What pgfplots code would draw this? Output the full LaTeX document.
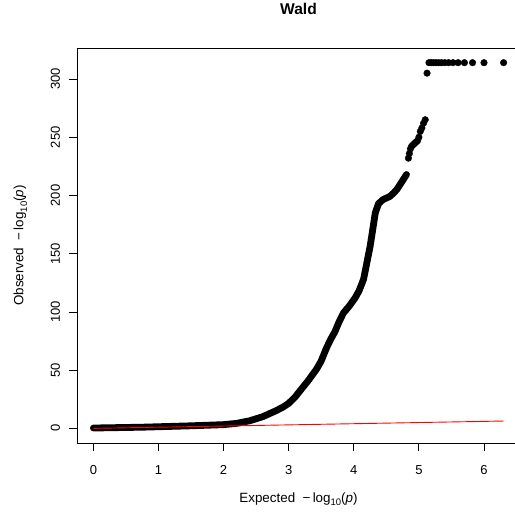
\documentclass[border=0pt]{standalone}
\usepackage{fontspec}
\setmainfont{Liberation Sans}
\usepackage{pgfplots}
\pgfplotsset{compat=1.18}
\newcommand{\lgp}{log\raisebox{-0.28em}{\fontsize{9.5}{9.5}\selectfont 10}(\textit{p})}
\begin{document}
\begin{tikzpicture}
\begin{axis}[
  scale only axis, width=443pt, height=395pt,
  xmin=-0.252, xmax=6.553, ymin=-12.56, ymax=326.6,
  axis x line*=box, axis y line*=left,
  axis line style={black, line width=0.8pt},
  tick style={black, line width=0.8pt},
  tick align=outside, tick pos=left,
  major tick length=8pt,
  xtick={0,1,2,3,4,5,6}, ytick={0,50,100,150,200,250,300},
  /pgf/number format/assume math mode=true,
  tick label style={font=\fontsize{13}{13}\selectfont},
  xticklabel style={anchor=base, yshift=-23.5pt},
  yticklabel style={rotate=90, anchor=north, inner sep=0pt},
  yticklabel shift=18.5pt,
  title={Wald},
  title style={font=\fontsize{15.6}{16}\selectfont\bfseries, at={(axis description cs:0.5,1.0691)}, anchor=base},
  xlabel={Expected\ \ −\,\lgp},
  xlabel style={font=\fontsize{13.4}{13}\selectfont, at={(axis description cs:0.5,-0.1494)}, anchor=base},
  ylabel={Observed\ \ −\,\lgp},
  ylabel style={font=\fontsize{13.4}{13}\selectfont, at={(axis description cs:-0.1208,0.5)}, anchor=base, rotate=0},
  clip=false,
]
\coordinate (SW) at (rel axis cs:0,0);
% continuous band of overlapping points
\addplot[black, line width=6.8pt, line cap=round, line join=round] coordinates {
(0,0.3) (0.75,1.0) (1.5,2.2) (2.0,3.2) (2.2,4.3) (2.4,6.5) (2.6,10) (2.8,15)
(2.92,18.5) (3.0,21.5) (3.1,27) (3.17,32) (3.3,41) (3.43,51) (3.5,58) (3.58,69)
(3.65,77) (3.71,83) (3.77,91) (3.84,99) (3.93,105) (4.02,112) (4.08,118) (4.15,128)
(4.2,142) (4.25,156) (4.3,174) (4.33,185) (4.38,193) (4.45,196.5) (4.55,199)
(4.61,202) (4.66,205) (4.73,211) (4.81,218)
};
% sparse top points
\addplot[only marks, mark=*, mark size=3.3pt, black] coordinates {
(4.839,232) (4.854,236) (4.870,240) (4.886,242) (4.903,243) (4.921,244) (4.939,245)
(4.959,246) (4.979,247) (5.000,250) (5.022,255) (5.046,258) (5.071,262) (5.097,265)
(5.125,305)
(5.155,314) (5.187,314) (5.222,314) (5.260,314) (5.301,314) (5.347,314) (5.398,314)
(5.456,314) (5.523,314) (5.602,314) (5.699,314) (5.824,314) (6.000,314) (6.301,314)
};
\addplot[red, line width=0.9pt] coordinates {(0,0) (6.301,6.301)};
\end{axis}
\pgfresetboundingbox
\path[use as bounding box] ([shift={(-77pt,-71pt)}]SW) rectangle ++(515pt,514pt);
\end{tikzpicture}
\end{document}
